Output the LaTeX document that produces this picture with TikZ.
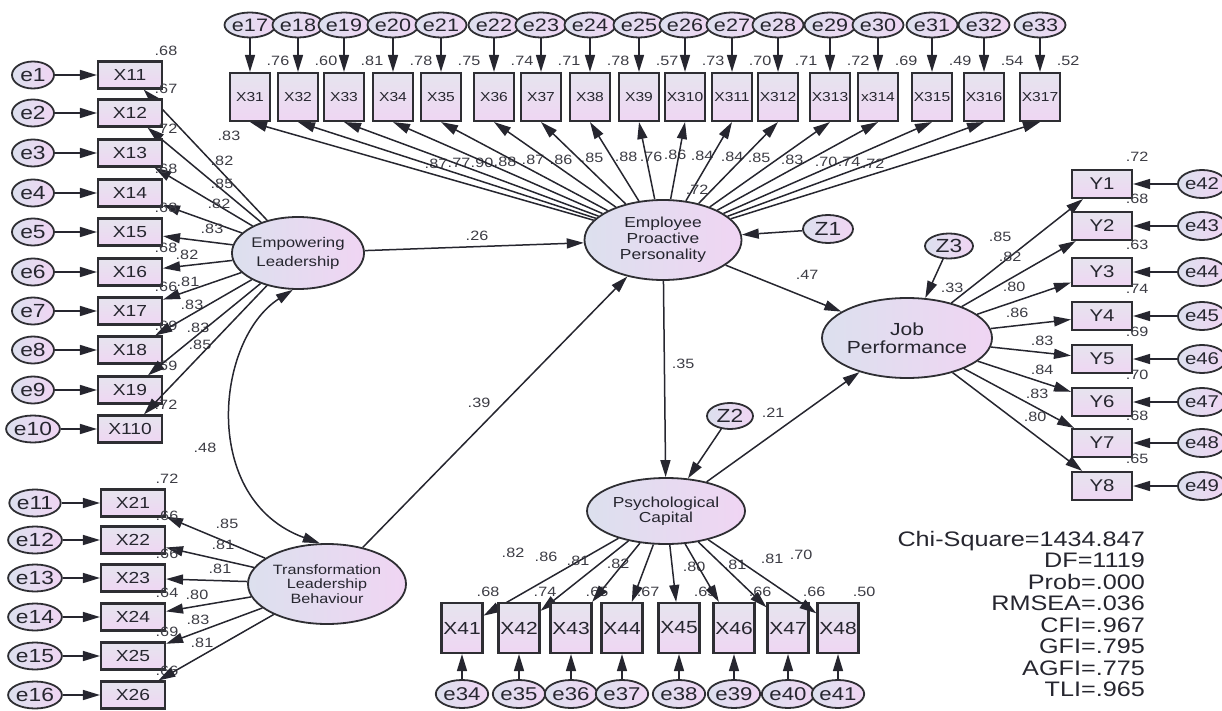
\documentclass[tikz,border=0pt]{standalone}
\usepackage{fontspec}
\setmainfont{Liberation Sans}[FakeStretch=1.2]
\usetikzlibrary{arrows.meta,shapes.geometric}
\definecolor{boxtop}{HTML}{E6E4EE}
\definecolor{boxbot}{HTML}{EFD6F3}
\definecolor{ellL}{HTML}{DCE0EE}
\definecolor{ellR}{HTML}{F0D5F3}
\definecolor{ink}{HTML}{26262F}
\definecolor{edgec}{HTML}{2E2E33}
\tikzset{
  fs/.style={font=\fontsize{#1}{#1}\selectfont},
  obs/.style={rectangle, draw=edgec, line width=2.1pt, top color=boxtop, bottom color=boxbot, inner sep=0pt, text=ink},
  errv/.style={ellipse, draw=edgec, line width=1.8pt, left color=ellL, right color=ellR, inner sep=0pt, text=ink},
  latv/.style={ellipse, draw=edgec, line width=1.8pt, left color=ellL, right color=ellR, inner sep=0pt, align=center, text=ink},
  num/.style={font=\fontsize{13.5}{13.5}\selectfont, text=ink!90, inner sep=0pt},
  fit/.style={font=\fontsize{21}{21}\selectfont, text=ink, inner sep=0pt, anchor=base east},
  pth/.style={draw=ink, line width=1.5pt, -{Triangle[length=17pt,width=10pt]}},
  cov/.style={draw=ink, line width=1.5pt, {Triangle[length=17pt,width=10pt]}-{Triangle[length=17pt,width=10pt]}},
}
\begin{document}
\begin{tikzpicture}[x=1pt,y=-1pt]
\useasboundingbox (0,0) rectangle (1222,711);

% latent variables
\node[latv, minimum width=130pt, minimum height=72pt, font=\fontsize{14}{19}\selectfont] (EL) at (298,253) {Empowering\\Leadership};
\node[latv, minimum width=158pt, minimum height=80pt, font=\fontsize{13.5}{14.5}\selectfont] (TLB) at (327,584) {Transformation\\Leadership\\Behaviour};
\node[latv, minimum width=157pt, minimum height=80pt, font=\fontsize{14.5}{16}\selectfont] (EPP) at (663,240) {Employee\\Proactive\\Personality};
\node[latv, minimum width=158pt, minimum height=80pt, font=\fontsize{17.5}{18}\selectfont] (JP) at (907,338) {Job\\Performance};
\node[latv, minimum width=158pt, minimum height=66pt, font=\fontsize{14.5}{15}\selectfont] (PC) at (666,511) {Psychological\\Capital};
\node[errv, minimum width=50pt, minimum height=28pt, fs=19] (Z1) at (828,229) {Z1};
\node[errv, minimum width=46pt, minimum height=26pt, fs=19] (Z2) at (730,416) {Z2};
\node[errv, minimum width=48pt, minimum height=25pt, fs=19] (Z3) at (949,246) {Z3};

% Empowering Leadership indicators
\foreach \i/\y/\r/\lx/\ly/\lv in {1/75/.68/229/136/.83, 2/113/.67/222/161/.82, 3/153/.72/222/184/.85, 4/193/.68/219/204/.82, 5/232/.68/212/229/.83, 6/272/.68/187/255/.82, 7/311/.66/188/282/.81, 8/350/.69/192/305/.83, 9/390/.69/198/328/.83, 10/429/.72/200/345/.85}{
  \node[errv, minimum width=42pt, minimum height=27pt, fs=19] (e\i) at (33,\y) {e\i};
  \node[obs, minimum width=64pt, minimum height=27pt, fs=16] (X1\i) at (130,\y) {X1\i};
  \node[num] (rX1\i) at (166,\y-24) {\r};
  \node[num] (lX1\i) at (\lx,\ly) {\lv};
  \draw[pth] (e\i) -- (X1\i);
  \draw[pth] (EL) -- (X1\i);
}

% Transformation Leadership indicators
\foreach \i/\y/\r/\lx/\ly/\lv in {1/503/.72/227/524/.85, 2/540/.66/223/545/.81, 3/578/.66/220/569/.81, 4/617/.64/197/595/.80, 5/656/.69/198/620/.83, 6/695/.66/202/643/.81}{
  \pgfmathtruncatemacro\en{10+\i}
  \node[errv, minimum width=40pt, minimum height=27pt, fs=19] (e\en) at (35,\y) {e\en};
  \node[obs, minimum width=64pt, minimum height=27pt, fs=16] (X2\i) at (133,\y) {X2\i};
  \node[num] (rX2\i) at (167,\y-24) {\r};
  \node[num] (lX2\i) at (\lx,\ly) {\lv};
  \draw[pth] (e\en) -- (X2\i);
  \draw[pth] (TLB) -- (X2\i);
}

% Employee Proactive Personality indicators
\foreach \i/\x/\t/\r/\lx/\ly/\lv in {1/250/X31/.76/436/164/.87, 2/298/X32/.60/459/163/.77, 3/344/X33/.81/482/163/.90, 4/393/X34/.78/505/162/.88, 5/441/X35/.75/533/160/.87, 6/494/X36/.74/561/160/.86, 7/541/X37/.71/592/158/.85, 8/590/X38/.78/626/157/.88, 9/639/X39/.57/651/157/.76, 10/685/X310/.73/675/155/.86, 11/732/X311/.70/702/156/.84, 12/778/X312/.71/732/157/.84, 13/830/X313/.72/759/158/.85, 14/878/x314/.69/792/160/.83, 15/932/X315/.49/826/162/.70, 16/984/X316/.54/849/162/.74, 17/1040/X317/.52/873/164/.72}{
  \pgfmathtruncatemacro\en{16+\i}
  \node[errv, minimum width=38pt, minimum height=25pt, fs=18] (e\en) at (\x,25) {e\en};
  \node[obs, minimum width=40pt, minimum height=48pt, fs=13] (X3\i) at (\x,97) {\t};
  \node[num] (rX3\i) at (\x+28,61) {\r};
  \node[num] (lX3\i) at (\lx,\ly) {\lv};
  \draw[pth] (e\en) -- (X3\i);
  \draw[pth] (EPP) -- (X3\i.south);
}

% Job Performance indicators
\foreach \i/\y/\r/\lx/\ly/\lv in {1/184/.72/1000/237/.85, 2/226/.68/1010/257/.82, 3/272/.63/1014/287/.80, 4/316/.74/1017/313/.86, 5/359/.69/1042/341/.83, 6/402/.70/1042/370/.84, 7/443/.68/1037/394/.83, 8/486/.65/1035/417/.80}{
  \pgfmathtruncatemacro\en{41+\i}
  \node[errv, minimum width=38pt, minimum height=28pt, fs=17] (e\en) at (1202,\y) {e\en};
  \node[obs, minimum width=60pt, minimum height=28pt, fs=17] (Y\i) at (1102,\y) {Y\i};
  \node[num] (rY\i) at (1137,\y-27) {\r};
  \node[num] (lY\i) at (\lx,\ly) {\lv};
  \draw[pth] (e\en) -- (Y\i);
  \draw[pth] (JP) -- (Y\i);
}

% Psychological Capital indicators
\foreach \i/\x/\r/\lx/\ly/\lv in {1/462/.68/513/553/.82, 2/519/.74/546/557/.86, 3/571/.65/578/561/.81, 4/622/.67/618/564/.82, 5/679/.65/694/567/.80, 6/734/.66/735/565/.81, 7/788/.66/772/559/.81, 8/838/.50/801/555/.70}{
  \pgfmathtruncatemacro\en{33+\i}
  \node[errv, minimum width=40pt, minimum height=28pt, fs=18.5] (e\en) at (\x,694) {e\en};
  \node[obs, minimum width=41pt, minimum height=50pt, fs=17.5] (X4\i) at (\x,628) {X4\i};
  \node[num] (rX4\i) at (\x+26,592) {\r};
  \node[num] (lX4\i) at (\lx,\ly) {\lv};
  \draw[pth] (e\en) -- (X4\i);
  \draw[pth] (PC) -- (X4\i);
}

% structural paths
\node[num] (l26) at (477,236) {.26};
\node[num] (l39) at (479,403) {.39};
\node[num] (l35) at (683,364) {.35};
\node[num] (l47) at (807,275) {.47};
\node[num] (l21) at (773,413) {.21};
\node[num] (l48) at (205,448) {.48};
\node[num] (rEPP) at (697,190) {.72};
\node[num] (rJP) at (952,288) {.33};
\draw[pth] (EL) -- (EPP);
\draw[pth] (TLB) -- (EPP);
\draw[pth] (EPP) -- (PC);
\draw[pth] (EPP) -- (JP);
\draw[pth] (PC) -- (JP);
\draw[pth] (Z1) -- (EPP);
\draw[pth] (Z2) -- (PC);
\draw[pth] (Z3) -- (JP);
\draw[cov] (EL.262) .. controls (215,340) and (200,500) .. (TLB.100);

% fit statistics
\node[fit] (f1) at (1145,546) {Chi-Square=1434.847};
\node[fit] (f2) at (1145,567.5) {DF=1119};
\node[fit] (f3) at (1145,589) {Prob=.000};
\node[fit] (f4) at (1145,610.5) {RMSEA=.036};
\node[fit] (f5) at (1145,632) {CFI=.967};
\node[fit] (f6) at (1145,653.5) {GFI=.795};
\node[fit] (f7) at (1145,675) {AGFI=.775};
\node[fit] (f8) at (1145,696.5) {TLI=.965};
\end{tikzpicture}
\end{document}
